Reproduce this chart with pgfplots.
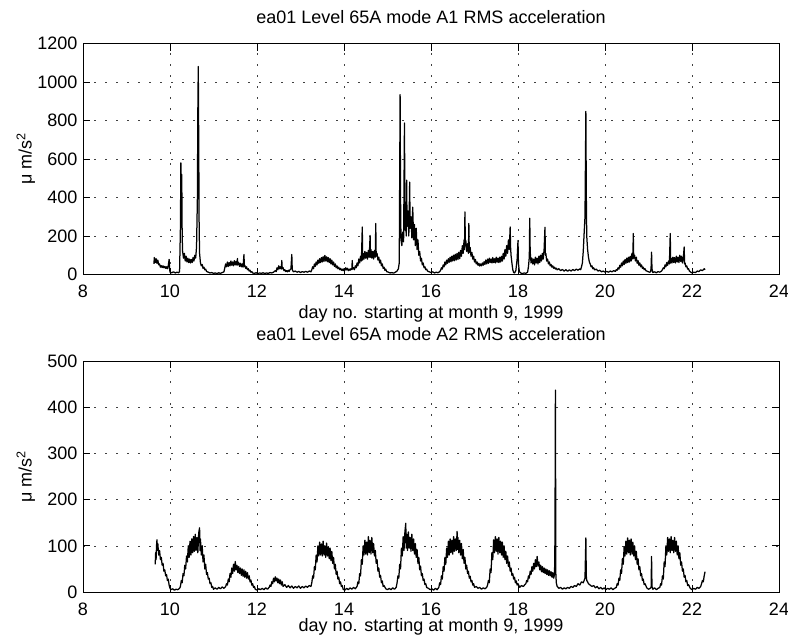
\documentclass[border=0pt]{standalone}
\usepackage{fontspec}
\setmainfont{Liberation Sans}
\usepackage{pgfplots}
\pgfplotsset{compat=1.18}

\pgfplotsset{
  matlabax/.style={
    scale only axis,
    width=696bp,
    xmin=8, xmax=24,
    xtick={8,10,...,24},
    tick align=inside,
    major tick length=7bp,
    xtick pos=both, ytick pos=both,
    grid=major,
    major grid style={black!75, line width=0.6bp, dash pattern=on 2bp off 9bp},
    axis line style={line width=1bp},
    every tick/.style={black, line width=0.8bp},
    font=\fontsize{18bp}{21bp}\selectfont,
    /pgf/number format/assume math mode=true,
    /pgf/number format/1000 sep={},
    xticklabel style={anchor=base, yshift=-23bp, inner sep=0pt},
    yticklabel style={anchor=east, xshift=-5.5bp, inner sep=0pt},
    xlabel={day no. starting at month 9, 1999},
    ylabel={μ m/s\textsuperscript{2}},
    ylabel style={at={(axis description cs:-0.082,0.5)}, anchor=center, inner sep=0pt},
    title style={at={(axis description cs:0.5,1)}, anchor=base, yshift=14.5bp, inner sep=0pt},
  },
  trace/.style={black, line width=1.25bp, line join=round},
}

\begin{document}
\begin{tikzpicture}

\begin{axis}[matlabax,
  at={(83bp,-43.5bp)}, anchor=north west,
  height=231bp,
  ymin=0, ymax=1200, ytick={0,200,...,1200},
  title={ea01 Level 65A mode A1 RMS acceleration},
  xlabel style={at={(axis description cs:0.5,0)}, anchor=base, yshift=-44bp, inner sep=0pt},
]
\addplot[trace] table {
9.63 55
9.64 88
9.66 62
9.68 82
9.70 58
9.72 75
9.74 50
9.76 55
9.78 38
9.80 46
9.82 36
9.84 45
9.86 35
9.88 42
9.90 32
9.92 40
9.94 30
9.96 45
9.98 78
9.99 30
10.00 12
10.04 9
10.08 14
10.12 8
10.16 12
10.20 9
10.22 15
10.24 250
10.25 580
10.26 380
10.27 520
10.28 200
10.29 120
10.31 85
10.33 110
10.35 70
10.37 95
10.39 65
10.41 85
10.43 62
10.45 80
10.47 60
10.49 78
10.51 62
10.53 88
10.55 70
10.57 100
10.59 85
10.61 142
10.63 400
10.64 850
10.65 1081
10.66 700
10.67 250
10.68 110
10.70 60
10.72 45
10.74 52
10.76 32
10.78 38
10.80 24
10.82 28
10.84 16
10.88 12
10.92 8
10.96 10
11.00 6
11.04 8
11.08 5
11.12 9
11.16 6
11.20 10
11.24 14
11.26 35
11.28 55
11.30 40
11.32 65
11.34 42
11.36 62
11.38 45
11.40 70
11.42 48
11.44 65
11.46 45
11.48 72
11.50 50
11.52 68
11.54 48
11.55 83
11.56 50
11.58 62
11.60 42
11.62 58
11.64 40
11.66 55
11.68 38
11.70 104
11.71 42
11.72 48
11.74 32
11.76 40
11.78 25
11.80 30
11.82 18
11.84 22
11.86 12
11.88 15
11.90 8
11.94 6
11.98 9
12.02 5
12.06 8
12.10 6
12.14 9
12.18 5
12.22 8
12.26 6
12.30 10
12.34 8
12.38 12
12.42 20
12.44 15
12.46 35
12.48 25
12.50 45
12.52 30
12.54 40
12.56 28
12.57 73
12.58 30
12.60 35
12.62 20
12.64 25
12.66 15
12.68 20
12.70 14
12.72 22
12.74 16
12.76 25
12.78 30
12.80 104
12.81 28
12.82 20
12.84 14
12.88 18
12.92 12
12.96 16
13.00 10
13.04 15
13.08 12
13.12 16
13.16 12
13.20 18
13.24 14
13.26 25
13.28 40
13.30 30
13.32 55
13.34 42
13.36 65
13.38 50
13.40 75
13.42 58
13.44 82
13.46 62
13.48 88
13.50 65
13.52 92
13.54 68
13.56 99
13.58 70
13.60 92
13.62 66
13.64 88
13.66 62
13.68 82
13.70 55
13.72 75
13.74 50
13.76 65
13.78 42
13.80 55
13.82 35
13.84 45
13.86 30
13.88 38
13.90 25
13.92 32
13.94 22
13.96 28
13.98 20
14.00 30
14.02 22
14.04 35
14.06 24
14.08 32
14.10 20
14.12 28
14.14 22
14.16 30
14.18 25
14.19 73
14.20 28
14.22 35
14.24 25
14.26 45
14.28 35
14.30 60
14.32 45
14.34 80
14.36 60
14.38 95
14.40 70
14.42 247
14.43 75
14.44 110
14.46 80
14.48 120
14.50 85
14.52 115
14.54 80
14.56 125
14.58 90
14.60 203
14.61 90
14.62 130
14.64 85
14.66 120
14.68 80
14.70 125
14.72 90
14.73 265
14.74 95
14.76 110
14.78 75
14.80 90
14.82 60
14.84 75
14.86 45
14.88 55
14.90 32
14.92 38
14.94 22
14.96 28
14.98 15
15.02 12
15.06 8
15.10 10
15.14 7
15.18 12
15.22 18
15.25 30
15.27 60
15.29 934
15.30 400
15.31 180
15.33 150
15.35 220
15.37 170
15.39 787
15.40 350
15.41 230
15.42 300
15.43 200
15.44 490
15.45 250
15.47 330
15.49 200
15.51 480
15.52 240
15.54 300
15.56 190
15.58 350
15.60 180
15.62 260
15.64 150
15.66 240
15.68 130
15.70 180
15.72 100
15.74 120
15.76 70
15.78 85
15.80 50
15.82 60
15.84 35
15.86 40
15.88 25
15.90 28
15.92 18
15.96 14
16.00 10
16.04 14
16.08 8
16.12 12
16.16 9
16.20 15
16.22 22
16.24 35
16.26 28
16.28 50
16.30 40
16.32 65
16.34 50
16.36 75
16.38 58
16.40 82
16.42 64
16.44 90
16.46 66
16.48 95
16.50 70
16.52 100
16.54 72
16.56 105
16.58 75
16.60 110
16.62 78
16.64 116
16.66 82
16.68 125
16.70 95
16.72 150
16.74 110
16.76 180
16.77 130
16.78 325
16.79 150
16.80 177
16.82 120
16.84 160
16.86 110
16.87 265
16.88 115
16.90 140
16.92 95
16.94 115
16.96 80
16.98 95
17.00 65
17.02 78
17.04 55
17.06 65
17.08 48
17.10 58
17.12 44
17.14 55
17.16 45
17.18 60
17.20 48
17.22 66
17.24 52
17.26 75
17.28 55
17.30 80
17.32 58
17.34 85
17.36 62
17.38 80
17.40 60
17.42 88
17.44 62
17.46 82
17.48 60
17.50 90
17.52 64
17.54 85
17.56 62
17.58 90
17.60 65
17.62 95
17.64 70
17.66 110
17.68 80
17.70 130
17.72 95
17.74 150
17.76 110
17.78 180
17.80 130
17.82 247
17.83 140
17.84 100
17.86 60
17.88 25
17.90 10
17.92 8
17.95 20
17.98 80
18.00 177
18.01 60
18.03 15
18.06 8
18.10 5
18.14 8
18.18 6
18.22 12
18.24 40
18.26 90
18.27 292
18.28 120
18.30 60
18.32 85
18.34 55
18.36 80
18.38 50
18.40 90
18.42 60
18.44 85
18.46 55
18.48 95
18.50 62
18.52 100
18.54 70
18.56 110
18.58 80
18.60 130
18.62 245
18.63 100
18.64 110
18.66 70
18.68 80
18.70 55
18.72 65
18.74 45
18.76 52
18.78 38
18.80 45
18.82 32
18.84 38
18.86 28
18.88 33
18.90 24
18.94 30
18.98 20
19.02 26
19.06 18
19.10 25
19.14 17
19.18 24
19.22 18
19.26 26
19.30 20
19.34 28
19.38 22
19.42 30
19.44 25
19.46 40
19.48 60
19.50 120
19.52 213
19.54 300
19.56 847
19.57 420
19.58 200
19.60 130
19.62 90
19.64 65
19.66 55
19.68 40
19.70 45
19.72 30
19.74 35
19.76 24
19.80 28
19.84 18
19.88 22
19.92 14
19.96 18
20.00 12
20.04 16
20.08 12
20.12 18
20.16 14
20.20 20
20.24 16
20.26 25
20.28 22
20.30 35
20.32 28
20.34 48
20.36 38
20.38 60
20.40 45
20.42 70
20.44 52
20.46 78
20.48 58
20.50 85
20.52 62
20.54 90
20.56 65
20.58 95
20.60 70
20.62 110
20.64 80
20.65 213
20.66 85
20.68 100
20.70 70
20.72 90
20.74 58
20.76 72
20.78 48
20.80 60
20.82 40
20.84 50
20.86 32
20.88 38
20.90 25
20.92 30
20.94 20
20.98 16
21.02 12
21.05 14
21.06 40
21.07 116
21.08 30
21.10 10
21.14 14
21.18 9
21.22 15
21.26 12
21.30 18
21.32 25
21.34 35
21.36 30
21.38 50
21.40 40
21.42 62
21.44 48
21.46 70
21.48 55
21.50 213
21.51 60
21.52 85
21.54 60
21.56 90
21.58 62
21.60 88
21.62 60
21.64 95
21.66 65
21.68 90
21.70 62
21.72 100
21.74 68
21.76 95
21.78 60
21.80 85
21.82 143
21.83 55
21.84 60
21.86 40
21.88 45
21.90 28
21.92 30
21.94 18
21.96 14
22.00 8
22.04 12
22.08 10
22.12 18
22.16 15
22.20 24
22.24 20
22.28 30
22.30 25
};
\end{axis}

\begin{axis}[matlabax,
  at={(83bp,-361bp)}, anchor=north west,
  height=231bp,
  ymin=0, ymax=500, ytick={0,100,...,500},
  title={ea01 Level 65A mode A2 RMS acceleration},
  xlabel style={at={(axis description cs:0.5,0)}, anchor=base, yshift=-39.5bp, inner sep=0pt},
]
\addplot[trace] table {
9.66 60
9.67 85
9.68 70
9.69 100
9.70 113
9.71 90
9.72 105
9.74 80
9.76 90
9.78 70
9.80 75
9.82 58
9.84 62
9.86 45
9.88 48
9.90 35
9.92 38
9.94 25
9.96 28
9.98 15
10.00 8
10.02 5
10.06 7
10.10 4
10.14 6
10.18 5
10.22 8
10.24 12
10.26 25
10.28 20
10.30 40
10.32 35
10.34 58
10.36 50
10.38 78
10.40 65
10.42 100
10.44 75
10.46 110
10.48 80
10.50 115
10.52 85
10.54 120
10.56 88
10.58 125
10.60 90
10.62 118
10.64 85
10.66 128
10.68 139
10.69 90
10.70 115
10.72 80
10.74 100
10.76 65
10.78 80
10.80 50
10.82 60
10.84 38
10.86 42
10.88 28
10.90 30
10.92 18
10.94 20
10.96 10
10.98 12
11.00 6
11.04 9
11.08 6
11.12 10
11.16 7
11.20 11
11.24 8
11.28 12
11.30 18
11.32 15
11.34 28
11.36 22
11.38 40
11.40 32
11.42 52
11.44 40
11.46 60
11.48 45
11.50 66
11.52 48
11.54 58
11.56 42
11.58 55
11.60 40
11.62 52
11.64 36
11.66 50
11.68 34
11.70 48
11.72 32
11.74 45
11.76 30
11.78 42
11.80 28
11.82 35
11.84 22
11.86 26
11.88 15
11.90 18
11.92 10
11.94 12
11.96 6
12.00 4
12.04 7
12.08 5
12.12 8
12.16 5
12.20 9
12.24 6
12.28 10
12.30 15
12.32 12
12.34 22
12.36 18
12.38 30
12.40 22
12.42 33
12.44 24
12.46 30
12.48 20
12.50 28
12.52 18
12.54 26
12.56 15
12.58 22
12.60 12
12.64 16
12.68 10
12.72 14
12.76 9
12.80 13
12.84 8
12.88 12
12.92 9
12.96 13
13.00 8
13.04 12
13.08 9
13.12 13
13.16 10
13.20 14
13.24 12
13.26 20
13.28 35
13.30 30
13.32 55
13.34 48
13.36 80
13.38 65
13.40 100
13.42 78
13.44 108
13.46 80
13.48 104
13.50 78
13.52 110
13.54 80
13.56 100
13.58 75
13.60 106
13.62 78
13.64 98
13.66 72
13.68 95
13.70 68
13.72 88
13.74 62
13.76 75
13.78 50
13.80 60
13.82 38
13.84 45
13.86 28
13.88 32
13.90 18
13.92 22
13.94 12
13.96 14
13.98 6
14.02 4
14.06 8
14.10 5
14.14 9
14.18 6
14.22 10
14.26 7
14.30 12
14.32 22
14.34 18
14.36 40
14.38 35
14.40 70
14.42 60
14.44 100
14.46 80
14.48 112
14.50 82
14.52 108
14.54 80
14.56 120
14.58 85
14.60 112
14.62 82
14.64 118
14.66 85
14.68 105
14.70 78
14.72 90
14.74 62
14.76 70
14.78 45
14.80 52
14.82 32
14.84 36
14.86 20
14.88 24
14.90 12
14.92 14
14.96 7
15.00 5
15.04 8
15.08 5
15.12 9
15.16 6
15.20 10
15.22 20
15.24 35
15.26 30
15.28 60
15.30 50
15.32 95
15.34 78
15.36 120
15.38 90
15.40 130
15.42 149
15.43 95
15.44 125
15.46 90
15.48 130
15.50 95
15.52 118
15.54 88
15.56 125
15.58 90
15.60 115
15.62 82
15.64 105
15.66 75
15.68 92
15.70 62
15.72 75
15.74 48
15.76 56
15.78 35
15.80 40
15.82 25
15.84 28
15.86 16
15.88 18
15.90 10
15.94 8
15.98 5
16.02 7
16.06 4
16.10 8
16.14 5
16.18 10
16.20 20
16.22 16
16.24 35
16.26 28
16.28 55
16.30 45
16.32 75
16.34 60
16.36 95
16.38 75
16.40 110
16.42 80
16.44 115
16.46 85
16.48 112
16.50 82
16.52 120
16.54 88
16.56 115
16.58 90
16.60 131
16.61 92
16.62 118
16.64 85
16.66 112
16.68 80
16.70 105
16.72 72
16.74 92
16.76 62
16.78 75
16.80 50
16.82 58
16.84 40
16.86 45
16.88 30
16.90 34
16.92 22
16.94 25
16.96 15
16.98 18
17.00 10
17.04 12
17.08 8
17.12 10
17.16 6
17.20 9
17.24 7
17.28 10
17.30 15
17.32 25
17.34 20
17.36 50
17.38 42
17.40 85
17.42 70
17.44 113
17.46 85
17.48 120
17.50 88
17.52 115
17.54 82
17.56 118
17.58 85
17.60 110
17.62 80
17.64 108
17.66 75
17.68 100
17.70 70
17.72 88
17.74 62
17.76 78
17.78 55
17.80 65
17.82 45
17.84 52
17.86 36
17.88 40
17.90 28
17.92 32
17.94 20
17.96 24
17.98 15
18.00 18
18.04 10
18.08 14
18.12 12
18.16 16
18.18 18
18.20 25
18.22 22
18.24 35
18.26 30
18.28 45
18.30 38
18.32 55
18.34 45
18.36 62
18.38 50
18.40 70
18.42 55
18.44 77
18.46 56
18.48 65
18.50 48
18.52 58
18.54 44
18.56 55
18.58 42
18.60 52
18.62 40
18.64 50
18.66 38
18.68 48
18.70 36
18.72 46
18.74 35
18.76 44
18.78 32
18.80 42
18.82 30
18.84 38
18.85 120
18.86 437
18.87 40
18.88 20
18.90 12
18.94 8
18.98 10
19.02 6
19.06 9
19.10 7
19.14 10
19.18 8
19.22 12
19.26 10
19.30 14
19.34 12
19.38 18
19.42 15
19.46 22
19.50 20
19.52 25
19.54 30
19.56 117
19.57 35
19.58 25
19.60 22
19.62 18
19.66 15
19.70 12
19.74 14
19.78 9
19.82 12
19.86 7
19.90 10
19.94 6
19.98 9
20.02 5
20.06 8
20.10 6
20.14 9
20.18 5
20.22 8
20.26 10
20.28 18
20.30 15
20.32 30
20.34 25
20.36 48
20.38 40
20.40 72
20.42 60
20.44 98
20.46 78
20.48 110
20.50 82
20.52 117
20.54 85
20.56 112
20.58 80
20.60 115
20.62 82
20.64 108
20.66 78
20.68 100
20.70 70
20.72 88
20.74 60
20.76 72
20.78 48
20.80 55
20.82 35
20.84 40
20.86 25
20.88 28
20.90 16
20.92 18
20.96 9
21.00 6
21.04 8
21.06 10
21.07 77
21.08 12
21.10 6
21.14 9
21.18 5
21.22 8
21.26 10
21.28 18
21.30 15
21.32 35
21.34 28
21.36 65
21.38 55
21.40 100
21.42 80
21.44 118
21.46 88
21.48 115
21.50 85
21.52 120
21.54 90
21.56 112
21.58 85
21.60 118
21.62 88
21.64 110
21.66 80
21.68 100
21.70 72
21.72 85
21.74 58
21.76 65
21.78 45
21.80 50
21.82 32
21.84 36
21.86 22
21.88 25
21.90 14
21.92 16
21.96 8
22.00 5
22.04 8
22.08 6
22.12 10
22.16 8
22.20 12
22.22 18
22.24 25
22.26 22
22.28 35
22.30 44
};
\end{axis}

\pgfresetboundingbox
\path[use as bounding box] (0bp,0bp) rectangle (788bp,-638bp);
\end{tikzpicture}
\end{document}
